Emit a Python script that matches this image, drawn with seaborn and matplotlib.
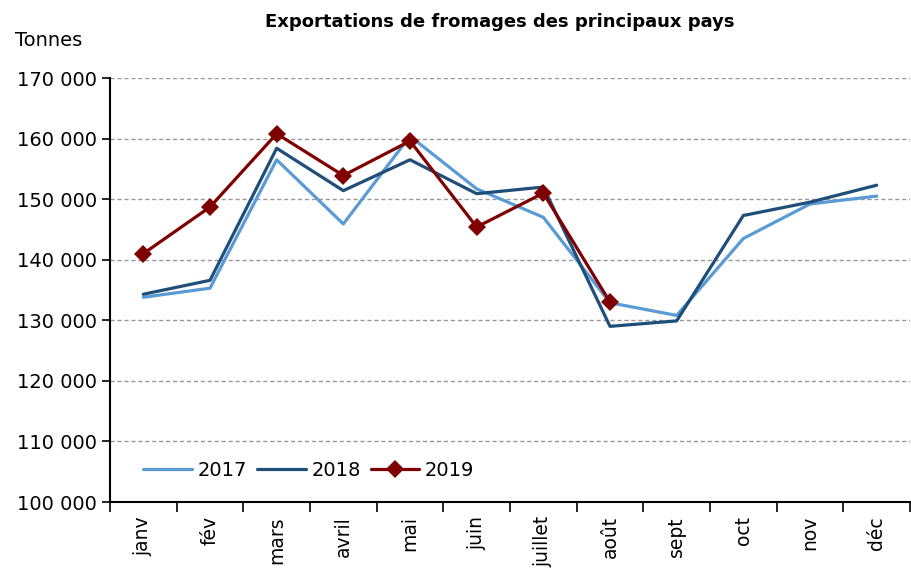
import matplotlib
matplotlib.use("Agg")
import matplotlib.pyplot as plt
import seaborn as sns
import pandas as pd
import numpy as np
from matplotlib.ticker import FuncFormatter, FixedLocator

months = ["janv", "fév", "mars", "avril", "mai", "juin", "juillet", "août", "sept", "oct", "nov", "déc"]
v2017 = [133800, 135300, 156500, 145900, 160400, 151700, 147000, 132900, 130800, 143500, 149200, 150500]
v2018 = [134300, 136600, 158400, 151400, 156500, 150900, 152000, 129000, 129900, 147300, 149500, 152300]
v2019 = [141000, 148700, 160800, 153900, 159600, 145400, 151000, 133000]

sns.set_style("white")
plt.rcParams['font.family'] = ['DejaVu Sans']
plt.rcParams['text.color'] = 'black'
plt.rcParams['xtick.color'] = 'black'
plt.rcParams['ytick.color'] = 'black'

fig = plt.figure(figsize=(9.12, 5.69), dpi=100)
ax = fig.add_axes([110/912, 1-502/569, 800/912, (502-78)/569])

series = [("2017", v2017, "#5B9BD5", None), ("2018", v2018, "#1F4E79", None), ("2019", v2019, "#7F0000", "D")]
for yr, vals, col, mk in series:
    d = pd.DataFrame({"mois": np.arange(len(vals)), "Tonnes": vals})
    kw = dict(marker=mk, markersize=9.5, markeredgewidth=0) if mk else {}
    sns.lineplot(data=d, x="mois", y="Tonnes", color=col, linewidth=2.3, label=yr, ax=ax, sort=False, **kw)

ax.set_xlim(-0.5, 11.5)
ax.set_ylim(100000, 170000)
ax.set_yticks(np.arange(100000, 170001, 10000))
ax.yaxis.set_major_formatter(FuncFormatter(lambda v, p: f"{int(v):,}".replace(",", " ")))
ax.yaxis.grid(True, linestyle=(0, (3, 2)), color="#999999", linewidth=1)
ax.set_axisbelow(True)

ax.set_xticks(np.arange(12))
ax.set_xticklabels(months, rotation=90, fontsize=13.5)
ax.tick_params(axis="x", which="major", length=0, pad=10)
ax.xaxis.set_minor_locator(FixedLocator(np.arange(-0.5, 12, 1)))
ax.tick_params(axis="x", which="minor", length=7, width=1.2, color="black", bottom=True)
ax.tick_params(axis="y", which="major", length=6, width=1.2, color="black", left=True, labelsize=14)

for s in ("top", "right"):
    ax.spines[s].set_visible(False)
for s in ("left", "bottom"):
    ax.spines[s].set_color("black")
    ax.spines[s].set_linewidth(1.5)

ax.set_xlabel("")
ax.set_ylabel("")

leg = ax.legend(loc="lower left", bbox_to_anchor=(0.02, 0.01), ncol=3, frameon=False,
                fontsize=14, handlelength=2.5, columnspacing=0.5, handletextpad=0.3)
for t in leg.get_texts():
    t.set_color("black")

fig.text(500/912, 1-22/569, "Exportations de fromages des principaux pays", ha="center", va="center",
         fontsize=13, fontweight="bold")
fig.text(15/912, 1-40/569, "Tonnes", ha="left", va="center", fontsize=14)

fig.savefig("out.png", dpi=100)
